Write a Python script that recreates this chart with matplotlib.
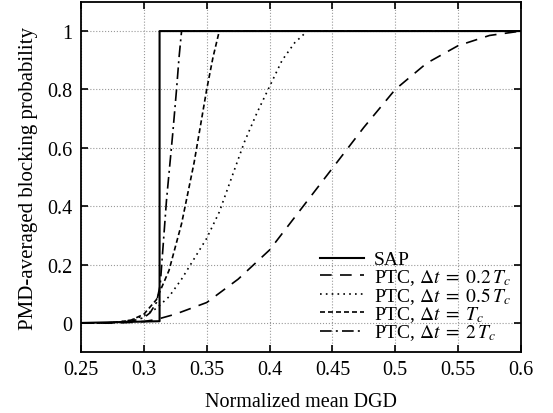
import numpy as np
import matplotlib
matplotlib.use('Agg')
import matplotlib.pyplot as plt

plt.rcParams['font.family'] = 'Liberation Serif'
plt.rcParams['mathtext.fontset'] = 'stix'

# SAP step
x_sap = [0.25, 0.3125, 0.3125, 0.6]
y_sap = [0.0, 0.006, 1.0, 1.0]

# PTC, dt = 0.2 Tc
x_02 = [0.25, 0.28, 0.29, 0.30, 0.31, 0.325, 0.35, 0.375, 0.40, 0.425, 0.45, 0.475, 0.50, 0.525, 0.55, 0.575, 0.60]
y_02 = [0.0, 0.0, 0.002, 0.005, 0.012, 0.03, 0.07, 0.15, 0.25, 0.39, 0.53, 0.67, 0.80, 0.89, 0.95, 0.985, 1.0]

# PTC, dt = 0.5 Tc
x_05 = [0.25, 0.27, 0.28, 0.29, 0.30, 0.31, 0.32, 0.33, 0.34, 0.35, 0.36, 0.37, 0.38, 0.39, 0.40, 0.41, 0.42, 0.43, 0.6]
y_05 = [0.0, 0.0, 0.003, 0.01, 0.025, 0.05, 0.09, 0.15, 0.22, 0.29, 0.38, 0.50, 0.62, 0.72, 0.81, 0.90, 0.96, 1.0, 1.0]

# PTC, dt = Tc
x_1 = [0.25, 0.27, 0.28, 0.29, 0.30, 0.31, 0.32, 0.33, 0.34, 0.35, 0.355, 0.36, 0.6]
y_1 = [0.0, 0.0, 0.003, 0.01, 0.03, 0.08, 0.18, 0.34, 0.55, 0.80, 0.91, 1.0, 1.0]

# PTC, dt = 2 Tc
x_2 = [0.25, 0.27, 0.28, 0.29, 0.30, 0.305, 0.31, 0.313, 0.318, 0.323, 0.326, 0.328, 0.330, 0.6]
y_2 = [0.0, 0.0, 0.002, 0.006, 0.018, 0.035, 0.07, 0.13, 0.42, 0.65, 0.80, 0.91, 1.0, 1.0]

fig = plt.figure(figsize=(5.53, 4.14), dpi=100)
ax = fig.add_axes([0.1465, 0.147, 0.7955, 0.846])

ax.plot(x_sap, y_sap, 'k-', lw=1.5, label='SAP')
ax.plot(x_02, y_02, 'k', lw=1.2, dashes=(7, 5), label=r'PTC, $\Delta t\;=\;0.2\,T_c$')
ax.plot(x_05, y_05, 'k', lw=1.2, dashes=(1, 2.5), label=r'PTC, $\Delta t\;=\;0.5\,T_c$')
ax.plot(x_1, y_1, 'k', lw=1.2, dashes=(3, 1.8), label=r'PTC, $\Delta t\;=\;T_c$')
ax.plot(x_2, y_2, 'k', lw=1.2, dashes=(7, 2.5, 1.2, 2.5), label=r'PTC, $\Delta t\;=\;2\,T_c$')

ax.set_xlim(0.25, 0.6)
ax.set_ylim(-0.1, 1.1)
ax.set_xticks([0.25, 0.3, 0.35, 0.4, 0.45, 0.5, 0.55, 0.6])
ax.set_xticklabels(['0.25', '0.3', '0.35', '0.4', '0.45', '0.5', '0.55', '0.6'])
ax.set_yticks([0, 0.2, 0.4, 0.6, 0.8, 1])
ax.set_yticklabels(['0', '0.2', '0.4', '0.6', '0.8', '1'])
ax.tick_params(direction='in', top=True, right=True, length=5, width=1.2, labelsize=14.5, pad=6)
ax.grid(True, linestyle=':', color='#999999', lw=0.8)
for s in ax.spines.values():
    s.set_linewidth(1.3)

ax.set_xlabel('Normalized mean DGD', fontsize=14.5, labelpad=9)
ax.set_ylabel('PMD-averaged blocking probability', fontsize=15, labelpad=7)

ax.legend(loc='lower right', fontsize=14, frameon=False, handlelength=2.3,
          labelspacing=-0.08, handletextpad=0.5, borderpad=0.2, borderaxespad=0.3)

fig.savefig('out.png', dpi=100)
